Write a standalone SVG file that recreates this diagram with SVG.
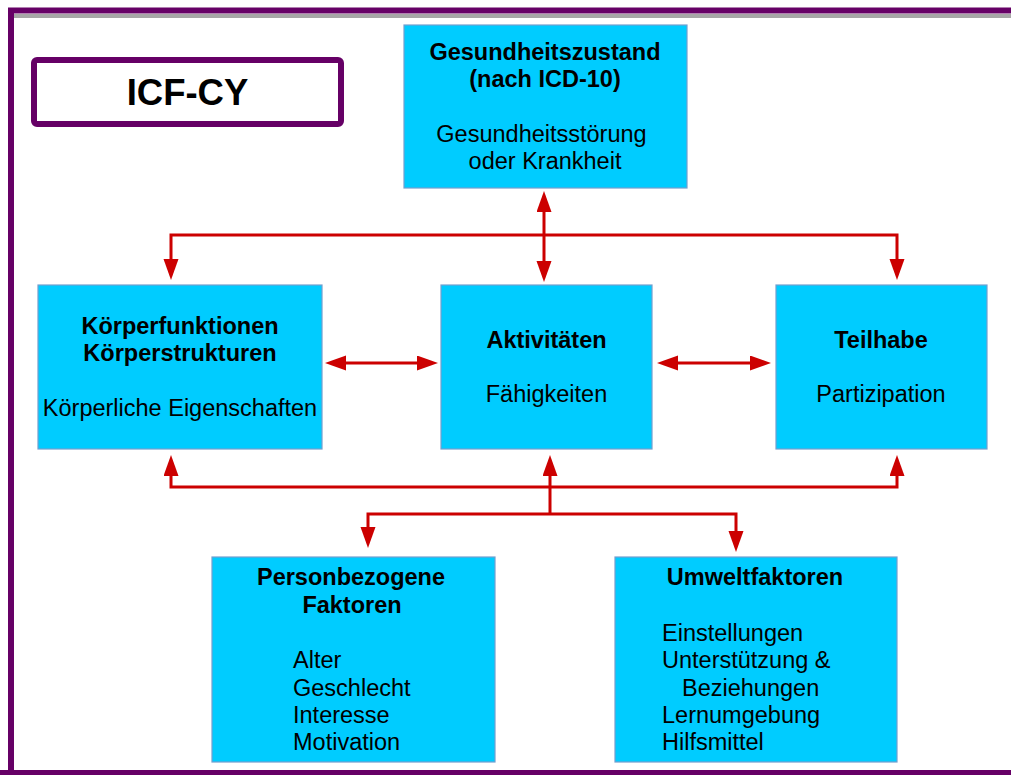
<svg xmlns="http://www.w3.org/2000/svg" width="1011" height="775" viewBox="0 0 1011 775">
<style>
.box{fill:#00ccff;stroke:#729fcf;stroke-width:1.2}
.t{font-family:"Liberation Sans",Arial,sans-serif;font-size:23.5px;fill:#000}
.b{font-weight:bold}
.c{text-anchor:middle}
.con{fill:none;stroke:#cc0000;stroke-width:3;marker-start:url(#ah);marker-end:url(#ah)}
</style>
<defs>
<marker id="ah" markerUnits="userSpaceOnUse" markerWidth="22" markerHeight="16" refX="11" refY="7.5" orient="auto-start-reverse" viewBox="0 0 22 16">
<path d="M0,0 L21,7.5 L0,15 z" fill="#cc0000"/>
</marker>
</defs>
<rect x="0" y="0" width="1011" height="775" fill="#fff"/>
<rect x="14" y="14" width="997" height="4" fill="#a6a6a6"/>
<rect x="11" y="10.5" width="1010" height="762.5" fill="none" stroke="#660066" stroke-width="6"/>
<g id="title">
<rect x="34" y="60" width="307" height="64" rx="3" fill="#fff" stroke="#660066" stroke-width="6"/>
<text class="t b c" x="187.5" y="105" style="font-size:36.5px">ICF-CY</text>
</g>
<g id="connectors">
<path class="con" d="M544,201 L544,272"/>
<path class="con" d="M171,270 L171,235 L897,235 L897,270"/>
<path class="con" d="M335,363 L428,363"/>
<path class="con" d="M667,363 L761,363"/>
<path class="con" d="M171,465 L171,487 L897,487 L897,465"/>
<path class="con" style="marker-end:none" d="M550,465 L550,514"/>
<path class="con" d="M368,538 L368,514 L736,514 L736,542"/>
</g>
<g id="gesundheitszustand">
<rect class="box" x="404" y="25" width="283" height="163"/>
<text class="t b c" x="545" y="60">Gesundheitszustand</text>
<text class="t b c" x="545" y="87">(nach ICD-10)</text>
<text class="t c" x="541.5" y="142">Gesundheitsstörung</text>
<text class="t c" x="545" y="169">oder Krankheit</text>
</g>
<g id="koerper">
<rect class="box" x="38" y="285" width="284" height="164"/>
<text class="t b c" x="180" y="334">Körperfunktionen</text>
<text class="t b c" x="180" y="361">Körperstrukturen</text>
<text class="t c" x="180" y="416">Körperliche Eigenschaften</text>
</g>
<g id="aktivitaeten">
<rect class="box" x="441" y="285" width="211" height="164"/>
<text class="t b c" x="546.5" y="348">Aktivitäten</text>
<text class="t c" x="546.5" y="402">Fähigkeiten</text>
</g>
<g id="teilhabe">
<rect class="box" x="776" y="285" width="211" height="164"/>
<text class="t b c" x="881" y="348">Teilhabe</text>
<text class="t c" x="881" y="402">Partizipation</text>
</g>
<g id="personbezogen">
<rect class="box" x="212" y="557" width="283" height="205"/>
<text class="t b c" x="351" y="585">Personbezogene</text>
<text class="t b c" x="352" y="613">Faktoren</text>
<text class="t" x="293" y="668">Alter</text>
<text class="t" x="293" y="696">Geschlecht</text>
<text class="t" x="293" y="723">Interesse</text>
<text class="t" x="293" y="750">Motivation</text>
</g>
<g id="umwelt">
<rect class="box" x="615" y="557" width="282" height="205"/>
<text class="t b c" x="755" y="585">Umweltfaktoren</text>
<text class="t" x="662" y="641">Einstellungen</text>
<text class="t" x="662" y="668">Unterstützung &amp;</text>
<text class="t" x="682" y="696">Beziehungen</text>
<text class="t" x="662" y="723">Lernumgebung</text>
<text class="t" x="662" y="750">Hilfsmittel</text>
</g>
<rect x="0" y="770" width="1011" height="5" fill="#660066"/>
</svg>
